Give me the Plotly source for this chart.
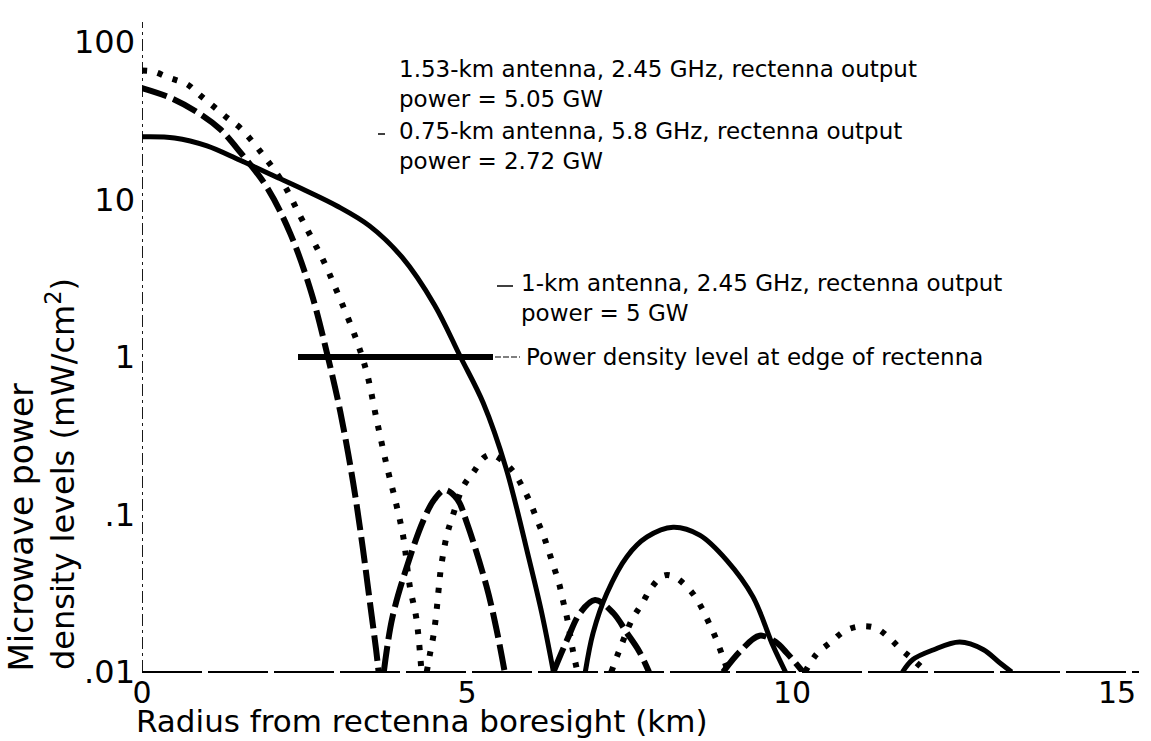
import plotly.graph_objects as go

# 1-km antenna, 2.45 GHz (solid)
km1_x = [0, 0.5, 1.0, 1.5, 2.0, 2.5, 3.0, 3.5, 4.0, 4.5, 4.9, 5.25, 5.6, 5.95, 6.15, 6.33, None,
         6.82, 6.94, 7.15, 7.46, 7.77, 8.17, 8.58, 9.0, 9.4, 9.71, 9.9, None,
         11.7, 11.86, 12.17, 12.58, 12.94, 13.2, 13.38]
km1_y = [25, 24.6, 21.9, 17.8, 14.3, 11.5, 9.1, 6.8, 4.3, 2.14, 1.0, 0.51, 0.197, 0.053, 0.0237, 0.01, None,
         0.01, 0.0177, 0.0315, 0.054, 0.072, 0.083, 0.074, 0.051, 0.03, 0.0146, 0.01, None,
         0.01, 0.012, 0.0138, 0.0155, 0.0139, 0.0114, 0.01]

# 0.75-km antenna, 5.8 GHz (dashed)
km075_x = [0, 0.45, 0.89, 1.2, 1.51, 1.92, 2.28, 2.6, 2.86, 3.05, 3.25, 3.4, 3.5, 3.6, 3.64, None,
           3.72, 3.85, 4.07, 4.33, 4.5, 4.66, 4.85, 5.0, 5.3, 5.45, 5.58, None,
           6.33, 6.54, 6.74, 6.97, 7.25, 7.46, 7.65, 7.8, None,
           8.94, 9.2, 9.5, 9.75, 9.92, 10.17]
km075_y = [51, 44, 35, 28, 20, 12, 6.1, 2.6, 1.0, 0.45, 0.158, 0.06, 0.029, 0.014, 0.01, None,
           0.01, 0.022, 0.046, 0.092, 0.125, 0.143, 0.125, 0.088, 0.035, 0.019, 0.01, None,
           0.01, 0.016, 0.0237, 0.0286, 0.0237, 0.0177, 0.0135, 0.01, None,
           0.01, 0.0135, 0.017, 0.0155, 0.0132, 0.01]

# 1.53-km antenna, 2.45 GHz (dotted)
km153_x = [0, 0.17, 0.43, 0.69, 0.89, 1.1, 1.31, 1.51, 1.87, 2.17, 2.43, 2.63, 2.79, 3.0, 3.3, 3.46, 3.61,
           3.77, 3.91, 4.02, 4.12, 4.22, 4.3, None,
           4.38, 4.43, 4.48, 4.52, 4.57, 4.6, 4.69, 4.77, 4.94, 5.1, 5.26, 5.37, 5.48, 5.7, 5.86, 5.98,
           6.08, 6.18, 6.26, 6.34, 6.42, 6.48, 6.54, 6.63, 6.7, None,
           7.22, 7.34, 7.55, 7.69, 7.83, 8.03, 8.2, 8.46, 8.6, 8.71, 8.82, 8.92, 9.02, None,
           10.2, 10.38, 10.6, 10.82, 11.06, 11.29, 11.48, 11.68, 11.86, 12.07]
km153_y = [66, 65, 59, 54, 46, 39, 33, 28.5, 19, 12.7, 7.9, 5.5, 4.1, 2.6, 1.28, 0.79, 0.4,
           0.2, 0.117, 0.072, 0.035, 0.022, 0.01, None,
           0.01, 0.013, 0.0167, 0.022, 0.0356, 0.046, 0.074, 0.095, 0.15, 0.186, 0.23, 0.24, 0.23, 0.19,
           0.148, 0.117, 0.092, 0.073, 0.058, 0.046, 0.036, 0.028, 0.022, 0.0136, 0.01, None,
           0.01, 0.0136, 0.022, 0.027, 0.034, 0.041, 0.04, 0.032, 0.026, 0.021, 0.0167, 0.013, 0.01, None,
           0.01, 0.013, 0.0155, 0.0183, 0.0195, 0.019, 0.0167, 0.0139, 0.012, 0.01]

# power density level at edge of rectenna
edge_x = [2.4, 5.4]
edge_y = [1, 1]

x_ticks = [0, 5, 10, 15]
y_ticks = [0.01, 0.1, 1, 10, 100]
y_ticktext = [".01", ".1", "1", "10", "100"]

W, H = 1151, 741
L, R, T, B = 142, 12, 22, 69
FONT = "DejaVu Sans"


def px(x):
    return (x - L) / (W - L - R)


def py(y):
    return (H - B - y) / (H - T - B)


fig = go.Figure()
fig.add_trace(go.Scatter(x=km1_x, y=km1_y, mode="lines", line=dict(color="black", width=5),
                         connectgaps=False, line_shape="spline"))
fig.add_trace(go.Scatter(x=km075_x, y=km075_y, mode="lines",
                         line=dict(color="black", width=6, dash="26px,7px"),
                         connectgaps=False, line_shape="spline"))
fig.add_trace(go.Scatter(x=km153_x, y=km153_y, mode="lines",
                         line=dict(color="black", width=6, dash="5px,11px"),
                         connectgaps=False, line_shape="spline"))
fig.add_trace(go.Scatter(x=edge_x, y=edge_y, mode="lines", line=dict(color="black", width=6)))

# axis lines
fig.add_shape(type="line", xref="x", yref="paper", x0=0, x1=0, y0=0, y1=1,
              line=dict(color="black", width=1.8, dash="12px,4px,3px,4px"))
fig.add_shape(type="line", xref="paper", yref="paper", x0=0, x1=1, y0=0, y1=0,
              line=dict(color="black", width=2.2, dash="60px,6px"))

# leader ticks
fig.add_shape(type="line", xref="paper", yref="paper", x0=px(378), x1=px(385), y0=py(134), y1=py(134),
              line=dict(color="black", width=1.5))
fig.add_shape(type="line", xref="paper", yref="paper", x0=px(497), x1=px(513), y0=py(286), y1=py(286),
              line=dict(color="black", width=1.5))
fig.add_shape(type="line", xref="paper", yref="paper", x0=px(495), x1=px(520), y0=py(357), y1=py(357),
              line=dict(color="black", width=1.2, dash="6px,2px"))

ann_font = dict(family=FONT, size=23, color="black")
notes = [
    (397, 84, "1.53-km antenna, 2.45 GHz, rectenna output<br>power = 5.05 GW"),
    (397, 146, "0.75-km antenna, 5.8 GHz, rectenna output<br>power = 2.72 GW"),
    (519, 298, "1-km antenna, 2.45 GHz, rectenna output<br>power = 5 GW"),
    (524, 357, "Power density level at edge of rectenna"),
]
for x0, y0, txt in notes:
    fig.add_annotation(x=px(x0), y=py(y0), xref="paper", yref="paper", text=txt, showarrow=False,
                       xanchor="left", yanchor="middle", align="left", font=ann_font)

# axis titles
fig.add_annotation(x=px(134), y=py(721), xref="paper", yref="paper",
                   text="Radius from rectenna boresight (km)", showarrow=False,
                   xanchor="left", yanchor="middle", font=dict(family=FONT, size=31, color="black"))
fig.add_annotation(x=px(21), y=py(674), xref="paper", yref="paper", text="Microwave power",
                   showarrow=False, textangle=-90, xanchor="center", yanchor="bottom",
                   font=dict(family=FONT, size=33, color="black"))
fig.add_annotation(x=px(61), y=py(672), xref="paper", yref="paper",
                   text="density levels (mW/cm<sup>2</sup>)",
                   showarrow=False, textangle=-90, xanchor="center", yanchor="bottom",
                   font=dict(family=FONT, size=32, color="black"))

fig.update_layout(
    width=W, height=H,
    margin=dict(l=L, r=R, t=T, b=B, autoexpand=False),
    paper_bgcolor="white", plot_bgcolor="white",
    showlegend=False,
    font=dict(family=FONT, color="black"),
    xaxis=dict(range=[0, (W - L - R) / 65], tickvals=x_ticks, showgrid=False, zeroline=False,
               showline=False, ticks="", tickfont=dict(size=30), ticklabelstandoff=0),
    yaxis=dict(type="log", range=[-2, -2 + (H - T - B) / 157.5], tickvals=y_ticks, ticktext=y_ticktext,
               showgrid=False, zeroline=False, showline=False, ticks="", tickfont=dict(size=32),
               ticklabelstandoff=6),
)

fig.write_html("out.html", config={"displayModeBar": False},
               post_script="document.body.style.margin='0';")
